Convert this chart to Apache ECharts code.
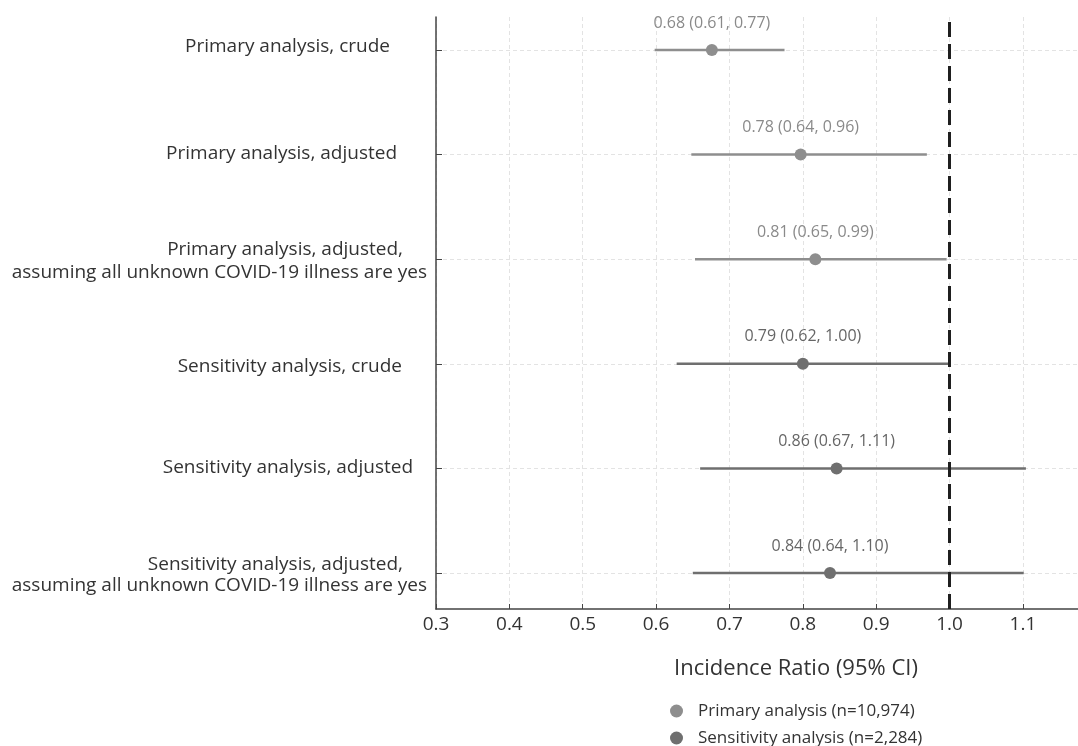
<!DOCTYPE html>
<html>
<head>
<meta charset="utf-8">
<script src="https://cdn.jsdelivr.net/npm/echarts@6/dist/echarts.min.js"></script>
<style>html,body{margin:0;padding:0;background:#fff;}#c{width:1078px;height:746px;}</style>
</head>
<body>
<div id="c"></div>
<script>
// Rows, top to bottom
const categories = [
  'Primary analysis, crude',
  'Primary analysis, adjusted',
  'Primary analysis, adjusted,\nassuming all unknown COVID-19 illness are yes',
  'Sensitivity analysis, crude',
  'Sensitivity analysis, adjusted',
  'Sensitivity analysis, adjusted,\nassuming all unknown COVID-19 illness are yes'
];
const groups = ['Primary analysis (n=10,974)', 'Primary analysis (n=10,974)', 'Primary analysis (n=10,974)',
  'Sensitivity analysis (n=2,284)', 'Sensitivity analysis (n=2,284)', 'Sensitivity analysis (n=2,284)'];
// plotted positions
const estimates = [0.676, 0.797, 0.817, 0.800, 0.846, 0.837];
const lowers    = [0.598, 0.648, 0.653, 0.628, 0.660, 0.650];
const uppers    = [0.775, 0.969, 0.996, 1.001, 1.104, 1.101];
const ciLabels = ['0.68 (0.61, 0.77)', '0.78 (0.64, 0.96)', '0.81 (0.65, 0.99)',
  '0.79 (0.62, 1.00)', '0.86 (0.67, 1.11)', '0.84 (0.64, 1.10)'];
const xTicks = [0.3, 0.4, 0.5, 0.6, 0.7, 0.8, 0.9, 1.0, 1.1];
const refValue = 1.0;
const legendNames = ['Primary analysis (n=10,974)', 'Sensitivity analysis (n=2,284)'];

const colors = {
  'Primary analysis (n=10,974)': {mark: '#8e8e8e', text: '#8a8a8a'},
  'Sensitivity analysis (n=2,284)': {mark: '#6f6f6f', text: '#666666'}
};
// padding [top, right, bottom] of each label line (layout only)
const labelPads = [
  [[0, 37, 7]],
  [[0, 30, 2]],
  [[6, 24, 0], [0, 0, 0]],
  [[6, 25, 0]],
  [[0, 14, 2]],
  [[10, 24, 0], [0, 0, 0]]
];

const n = categories.length;
const rowPos = categories.map((_, i) => n - 1 - i);

const rich = {};
labelPads.forEach((row, i) => row.forEach((p, k) => {
  rich['L' + i + '_' + k] = {fontSize: 19, fontFamily: 'Open Sans', color: '#333',
    padding: [p[0], p[1], p[2], 0], lineHeight: 26, align: 'right'};
}));

function labelFor(v) {
  const i = n - 1 - Math.round(v);
  if (i < 0 || i >= n) return '';
  const lines = categories[i].split('\n');
  return lines.map((l, k) => '{L' + i + '_' + k + '|' + l + '}').join('\n');
}

const series = [];
legendNames.forEach(name => {
  const idx = groups.map((g, i) => g === name ? i : -1).filter(i => i >= 0);
  series.push({
    type: 'custom',
    name: name,
    silent: true,
    data: idx.map(i => [lowers[i], uppers[i], rowPos[i]]),
    encode: {x: [0, 1], y: 2},
    renderItem: function (params, api) {
      const a = api.coord([api.value(0), api.value(2)]);
      const b = api.coord([api.value(1), api.value(2)]);
      return {type: 'line', shape: {x1: a[0], y1: a[1], x2: b[0], y2: b[1]},
        style: {stroke: colors[name].mark, lineWidth: 2.5}};
    },
    z: 3
  });
  series.push({
    type: 'scatter',
    name: name,
    symbol: 'circle',
    symbolSize: 12,
    itemStyle: {color: colors[name].mark, opacity: 1},
    data: idx.map(i => ({value: [estimates[i], rowPos[i]], label: {formatter: ciLabels[i]}})),
    label: {show: true, position: 'top', distance: 13, fontSize: 16, fontFamily: 'Open Sans', color: colors[name].text},
    z: 5
  });
});
series.push({
  type: 'line', data: [], silent: true,
  markLine: {
    symbol: 'none', silent: true, label: {show: false},
    lineStyle: {color: '#1f1f1f', width: 3, type: [15, 7]},
    data: [{xAxis: refValue}]
  }
});

const chart = echarts.init(document.getElementById('c'));
chart.setOption({
  animation: false,
  backgroundColor: '#fff',
  grid: {left: 436, right: 0, top: 17, bottom: 137, containLabel: false},
  xAxis: {
    type: 'value', min: 0.3, max: 1.175, interval: 0.1,
    name: 'Incidence Ratio (95% CI)', nameLocation: 'middle', nameGap: 49,
    nameTextStyle: {fontSize: 22, fontFamily: 'Open Sans', color: '#333', padding: [0, 0, 0, 78]},
    axisLine: {show: true, onZero: false, lineStyle: {color: '#444', width: 1.5}},
    axisTick: {show: true, inside: true, length: 5, lineStyle: {color: '#444'}, customValues: xTicks},
    axisLabel: {fontSize: 19, fontFamily: 'Open Sans', color: '#333', margin: 6, customValues: xTicks,
      formatter: v => v.toFixed(1)},
    splitLine: {show: true, lineStyle: {color: '#e3e3e3', type: [4, 3], width: 1}}
  },
  yAxis: {
    type: 'value', min: -0.344, max: 5.315,
    axisLine: {show: true, onZero: false, lineStyle: {color: '#444', width: 1.5}},
    axisTick: {show: true, inside: true, length: 6, lineStyle: {color: '#444'}, customValues: rowPos},
    axisLabel: {margin: 9, customValues: rowPos, formatter: labelFor, rich: rich},
    splitLine: {show: true, lineStyle: {color: '#e3e3e3', type: [4, 3], width: 1}}
  },
  legend: {
    data: legendNames.map(nm => ({name: nm, icon: 'circle', itemStyle: {color: colors[nm].mark}})),
    orient: 'vertical', left: 670, top: 702, width: 300, height: 60, padding: 0,
    itemWidth: 13, itemHeight: 13, itemGap: 9,
    textStyle: {fontSize: 17, lineHeight: 18, fontFamily: 'Open Sans', color: '#333', padding: [0, 0, 0, 10]}
  },
  series: series
});
</script>
</body>
</html>
